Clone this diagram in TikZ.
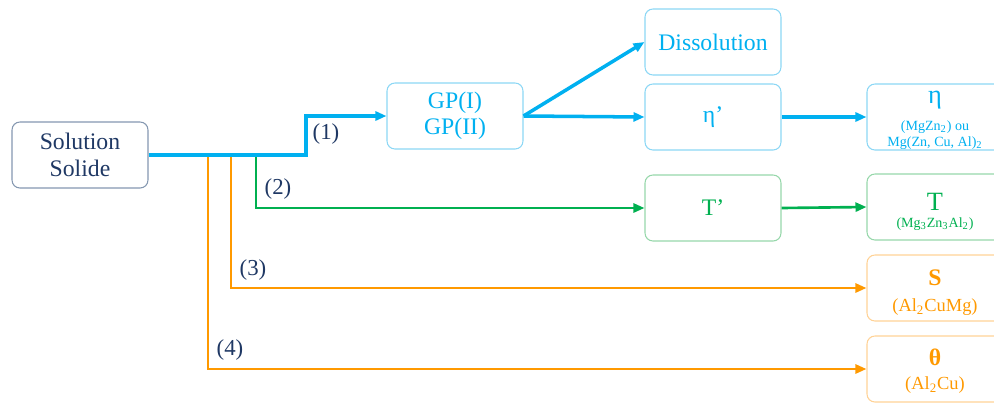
\documentclass[tikz,border=0pt]{standalone}
\usepackage{fontspec}
\setmainfont{Liberation Serif}
\usepackage{xcolor}
\usetikzlibrary{arrows.meta}

\definecolor{navy}{RGB}{31,56,100}
\definecolor{navyedge}{RGB}{132,151,176}
\definecolor{cyanline}{RGB}{0,176,240}
\definecolor{cyanedge}{RGB}{140,215,245}
\definecolor{greenline}{RGB}{0,176,80}
\definecolor{greenedge}{RGB}{150,215,170}
\definecolor{orangeline}{RGB}{255,153,0}
\definecolor{orangeedge}{RGB}{255,210,150}

\tikzset{
  phase/.style={draw, line width=0.6pt, rounded corners=4.5pt, minimum width=2.72cm,
    minimum height=1.32cm, inner sep=0pt, align=center, font=\fontsize{13.5}{15}\selectfont},
  path/.style={line width=1.5pt, -{Triangle[length=2.2mm,width=1.8mm]}},
  tag/.style={text=navy, font=\fontsize{13}{15}\selectfont},
  big/.style={inner sep=0pt, font=\fontsize{15}{17}\selectfont},
  mid/.style={inner sep=0pt, font=\fontsize{13.5}{15}\selectfont\bfseries},
  tiny8/.style={inner sep=0pt, font=\fontsize{8}{9}\selectfont},
  small10/.style={inner sep=0pt, font=\fontsize{10.5}{12}\selectfont}
}

\begin{document}
\begin{tikzpicture}[x=0.02cm, y=-0.02cm]
    \useasboundingbox (0,0) rectangle (994,403);
    \node[phase, draw=navyedge, text=navy] (sol) at (80,155) {Solution\\Solide};
    \node[phase, draw=cyanedge, text=cyanline] (gp) at (455,116) {GP(I)\\GP(II)};
    \node[phase, draw=cyanedge, text=cyanline] (diss) at (713,42) {Dissolution};
    \node[phase, draw=cyanedge, text=cyanline] (etap) at (713,117) {η’};
    \node[phase, draw=greenedge, text=greenline] (tp) at (713,208) {T’};
    \node[phase, draw=cyanedge] (eta) at (935,117) {};
    \node[phase, draw=greenedge] (t) at (935,207) {};
    \node[phase, draw=orangeedge] (s) at (935,288) {};
    \node[phase, draw=orangeedge] (theta) at (935,369) {};

    \node[big, text=cyanline] (etaname) at (935,100) {η};
    \node[tiny8, text=cyanline] (etaf1) at (935,127) {(MgZn\textsubscript{2}) ou};
    \node[tiny8, text=cyanline] (etaf2) at (935,143) {Mg(Zn, Cu, Al)\textsubscript{2}};
    \node[big, text=greenline] (tname) at (935,202) {T};
    \node[tiny8, text=greenline] (tf) at (935,224) {(Mg\textsubscript{3}Zn\textsubscript{3}Al\textsubscript{2})};
    \node[mid, text=orangeline] (sname) at (935,278) {S};
    \node[small10, text=orangeline] (sf) at (935,307) {(Al\textsubscript{2}CuMg)};
    \node[mid, text=orangeline] (thetaname) at (935,357) {θ};
    \node[small10, text=orangeline] (thetaf) at (935,385) {(Al\textsubscript{2}Cu)};

    \coordinate (kink) at (306,155);
    \coordinate (g0) at (256,155);
    \coordinate (o1) at (231,155);
    \coordinate (o2) at (208,155);

    \draw[path, orangeline] (o2) |- (theta.west);
    \draw[path, orangeline] (o1) |- (s.west);
    \draw[path, greenline] (g0) |- (tp.west);
    \draw[path, cyanline, line width=2pt] (sol.east) -- (kink) |- (gp.west);
    \draw[path, cyanline, line width=2pt] (gp.east) -- (diss.west);
    \draw[path, cyanline, line width=2pt] (gp.east) -- (etap.west);
    \draw[path, cyanline, line width=2pt] (etap.east) -- (eta.west);
    \draw[path, greenline] (tp.east) -- (t.west);

    \node[tag] (n1) at (326,134) {(1)};
    \node[tag] (n2) at (278,189) {(2)};
    \node[tag] (n3) at (253,270) {(3)};
    \node[tag] (n4) at (230,350) {(4)};
\end{tikzpicture}
\end{document}
